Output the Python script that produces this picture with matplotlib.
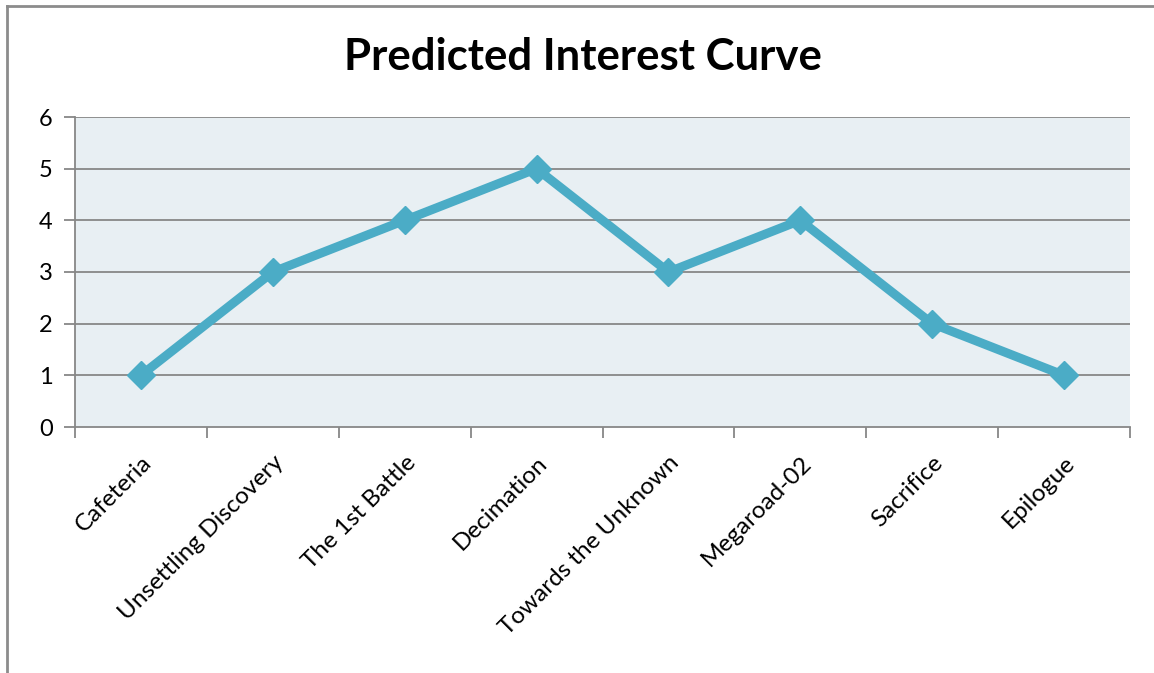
#!/usr/bin/env python

import matplotlib.pyplot as plt
from matplotlib.lines import Line2D

chapters = ['Cafeteria', 'Unsettling Discovery', 'The 1st Battle', 'Decimation',
            'Towards the Unknown', 'Megaroad-02', 'Sacrifice', 'Epilogue']
interest = [1, 3, 4, 5, 3, 4, 2, 1]
y_ticks = [0, 1, 2, 3, 4, 5, 6]

line_color = '#4BACC6'
grid_color = '#878787'
plot_bg = '#E8EFF3'

plt.rcParams['font.family'] = ['Lato', 'DejaVu Sans']


def main():
    fig = plt.figure(figsize=(11.54, 6.73), dpi=100)
    ax = fig.add_axes([75 / 1154, 1 - 427 / 673, (1130 - 75) / 1154, (427 - 117) / 673])
    ax.set_facecolor(plot_bg)

    x = list(range(len(chapters)))
    ax.plot(x, interest, color=line_color, lw=6.5, marker='D', ms=14.5,
            solid_joinstyle='miter', zorder=3, clip_on=False)

    ax.set_xlim(-0.5, len(chapters) - 0.5)
    ax.set_ylim(0, 6)
    ax.set_yticks(y_ticks)
    for t in y_ticks[1:]:
        ax.axhline(t, color=grid_color, lw=1.3, zorder=1)

    # category ticks sit between the categories
    ax.set_xticks([i - 0.5 for i in range(len(chapters) + 1)])
    ax.set_xticklabels([])
    ax.set_xticks(x, minor=True)
    ax.set_xticklabels(chapters, minor=True, rotation=45, ha='right',
                       rotation_mode='anchor', fontsize=17.5)
    ax.tick_params(axis='x', which='minor', length=0, pad=18)
    ax.tick_params(axis='x', which='major', length=8, width=1.3, color=grid_color)
    ax.tick_params(axis='y', length=8, width=1.3, color=grid_color, labelsize=17, pad=8)

    for side in ['top', 'right']:
        ax.spines[side].set_visible(False)
    for side in ['left', 'bottom']:
        ax.spines[side].set_color(grid_color)
        ax.spines[side].set_linewidth(1.3)

    fig.text(583 / 1154, 1 - 57 / 673, 'Predicted Interest Curve', ha='center',
             va='center', fontsize=31.5, fontweight='bold')

    # chart border (left and top edges visible)
    fig.add_artist(Line2D([6.5 / 1154, 6.5 / 1154], [0, 1 - 6 / 673],
                          transform=fig.transFigure, color='#8C8C8C', lw=2))
    fig.add_artist(Line2D([6.5 / 1154, 1], [1 - 6 / 673, 1 - 6 / 673],
                          transform=fig.transFigure, color='#8C8C8C', lw=2))

    fig.savefig('out.png', dpi=100)


if __name__ == '__main__':
    main()
